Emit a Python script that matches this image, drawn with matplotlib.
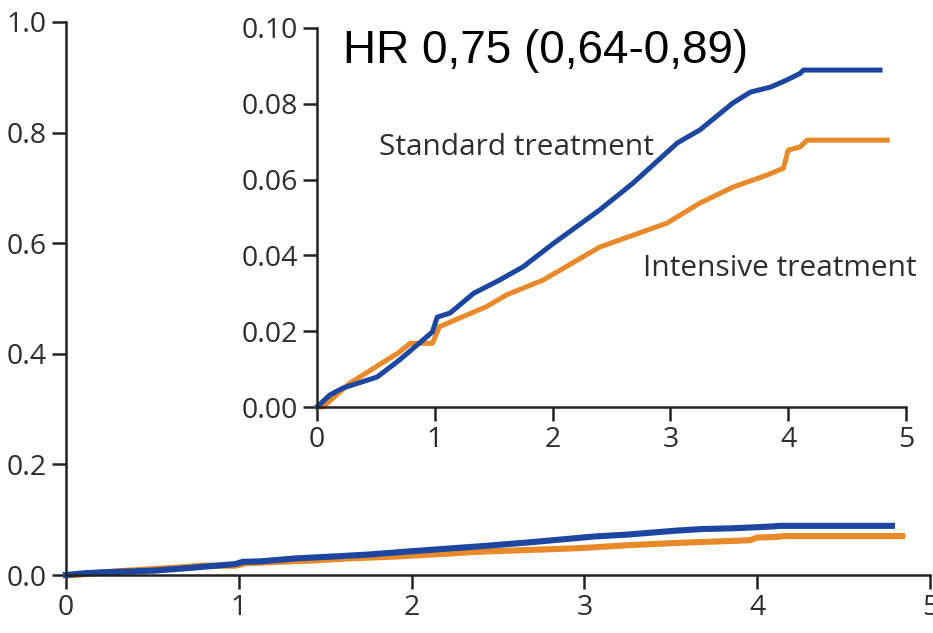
import matplotlib
matplotlib.use("Agg")
import matplotlib.pyplot as plt
from matplotlib.ticker import FormatStrFormatter

# cumulative incidence by year, read per arm
years_std = [0, 0.11, 0.22, 0.51, 0.70, 0.98, 1.02, 1.13, 1.33, 1.55, 1.75, 2.0,
             2.40, 2.68, 3.06, 3.25, 3.53, 3.68, 3.85, 3.99, 4.10, 4.13, 4.78]
risk_std = [0, 0.0032, 0.005, 0.0079, 0.0124, 0.0198, 0.0237, 0.0248, 0.030,
            0.0335, 0.037, 0.043, 0.052, 0.059, 0.0697, 0.0731, 0.0802, 0.0831,
            0.0844, 0.0863, 0.088, 0.0889, 0.0889]

years_int = [0, 0.05, 0.28, 0.70, 0.79, 0.98, 1.04, 1.44, 1.61, 1.92, 2.40, 2.97,
             3.25, 3.53, 3.82, 3.96, 4.0, 4.1, 4.16, 4.84]
risk_int = [0, 0, 0.0063, 0.0145, 0.0168, 0.0168, 0.0212, 0.0265, 0.0296, 0.0335,
            0.0422, 0.0485, 0.0538, 0.058, 0.0612, 0.063, 0.0678, 0.0686, 0.0704,
            0.0704]

x_ticks = [0, 1, 2, 3, 4, 5]
outer_y_ticks = [0.0, 0.2, 0.4, 0.6, 0.8, 1.0]
inset_y_ticks = [0.0, 0.02, 0.04, 0.06, 0.08, 0.10]

hr_label = "HR 0,75 (0,64-0,89)"
std_label = "Standard treatment"
int_label = "Intensive treatment"

BLUE = "#1c46a0"
ORANGE = "#e8892a"
INK = "#2e2e2e"
LABEL_FONT = ["Open Sans", "DejaVu Sans"]


def style_axes(ax, size):
    for side in ["top", "right"]:
        ax.spines[side].set_visible(False)
    for side in ["left", "bottom"]:
        ax.spines[side].set_linewidth(1.8)
        ax.spines[side].set_color("#222222")
    ax.tick_params(length=10, width=1.8, color="#222222", labelcolor=INK,
                   labelsize=size, pad=4)
    for lab in ax.get_xticklabels() + ax.get_yticklabels():
        lab.set_family(LABEL_FONT)


fig = plt.figure(figsize=(9.33, 6.33), dpi=100)

# full-scale plot
ax = fig.add_axes([66 / 933, 1 - 575 / 633, 864 / 933, 553 / 633])
ax.plot(years_int, risk_int, color=ORANGE, lw=4.4, clip_on=False)
ax.plot(years_std, risk_std, color=BLUE, lw=4.4, clip_on=False)
ax.set_xlim(0, 5)
ax.set_ylim(0, 1)
ax.set_xticks(x_ticks)
ax.set_yticks(outer_y_ticks)
ax.yaxis.set_major_formatter(FormatStrFormatter("%.1f"))
style_axes(ax, 20.5)

# zoomed inset
ax_in = fig.add_axes([317 / 933, 1 - 407 / 633, 589 / 933, 379 / 633])
ax_in.set_facecolor("white")
ax_in.plot(years_int, risk_int, color=ORANGE, lw=3.6, clip_on=False)
ax_in.plot(years_std, risk_std, color=BLUE, lw=3.6, clip_on=False)
ax_in.set_xlim(0, 5)
ax_in.set_ylim(0, 0.10)
ax_in.set_xticks(x_ticks)
ax_in.set_yticks(inset_y_ticks)
ax_in.yaxis.set_major_formatter(FormatStrFormatter("%.2f"))
style_axes(ax_in, 20.5)

ax_in.text(0.53, 0.0685, std_label, color=INK, fontsize=21.5, family=LABEL_FONT,
           va="center", ha="left")
ax_in.text(2.77, 0.0365, int_label, color=INK, fontsize=21.5, family=LABEL_FONT,
           va="center", ha="left")

fig.text(343 / 933, 1 - 63 / 633, hr_label, fontsize=33,
         family=["Liberation Sans", "DejaVu Sans"], color="black",
         va="baseline", ha="left")

fig.savefig("out.png", dpi=100)
